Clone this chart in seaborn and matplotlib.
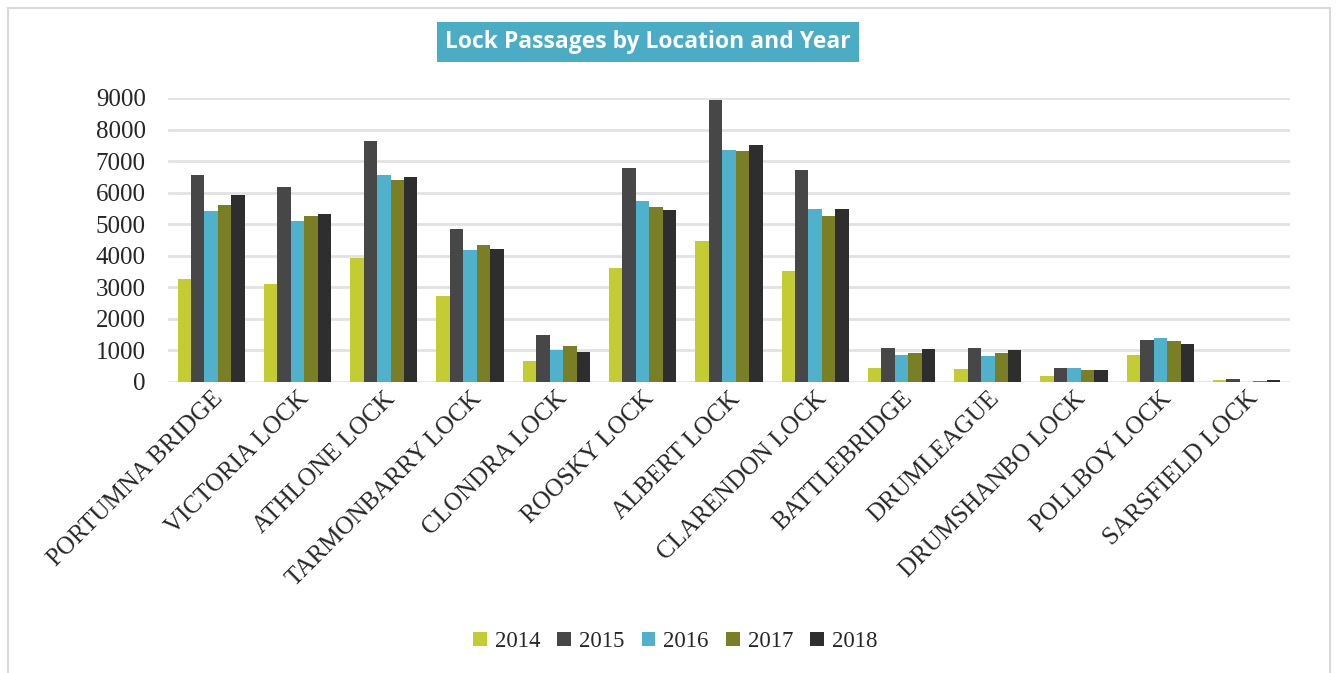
import pandas as pd
import seaborn as sns
import numpy as np
import matplotlib.pyplot as plt
from matplotlib.patches import Rectangle

# data
locations = ['PORTUMNA BRIDGE', 'VICTORIA LOCK', 'ATHLONE LOCK', 'TARMONBARRY LOCK',
             'CLONDRA LOCK', 'ROOSKY LOCK', 'ALBERT LOCK', 'CLARENDON LOCK',
             'BATTLEBRIDGE', 'DRUMLEAGUE', 'DRUMSHANBO LOCK', 'POLLBOY LOCK', 'SARSFIELD LOCK']
years = ['2014', '2015', '2016', '2017', '2018']
y2014 = [3260, 3120, 3930, 2730, 665, 3610, 4460, 3530, 455, 425, 190, 855, 50]
y2015 = [6550, 6170, 7630, 4840, 1500, 6780, 8950, 6720, 1080, 1065, 445, 1320, 80]
y2016 = [5430, 5110, 6550, 4170, 1025, 5750, 7350, 5490, 845, 825, 435, 1405, 15]
y2017 = [5600, 5260, 6410, 4350, 1140, 5550, 7320, 5250, 920, 910, 380, 1310, 40]
y2018 = [5915, 5325, 6490, 4215, 960, 5440, 7500, 5480, 1045, 1005, 390, 1205, 70]
colors = ['#c4cc33', '#474747', '#4fb1cc', '#7a7f25', '#2e2e2e']

df = pd.DataFrame({
    'location': locations * 5,
    'year': np.repeat(years, len(locations)),
    'passages': y2014 + y2015 + y2016 + y2017 + y2018,
})

sns.set_style('white')
plt.rcParams['font.family'] = ['Liberation Serif', 'DejaVu Serif']

fig = plt.figure(figsize=(13.37, 6.73), dpi=100)
ax = fig.add_axes([0.1257, 0.4324, 0.839, 0.422])

sns.barplot(data=df, x='location', y='passages', hue='year', order=locations,
            hue_order=years, palette=colors, width=0.78, saturation=1,
            linewidth=0, ax=ax)

ax.set_ylim(0, 9000)
ax.set_yticks(range(0, 9001, 1000))
ax.set_xlim(-0.5, len(locations) - 0.5)
ax.yaxis.grid(True, color='#e2e2e2', linewidth=2)
ax.set_axisbelow(True)
for s in ax.spines.values():
    s.set_visible(False)
ax.set_xlabel('')
ax.set_ylabel('')
ax.tick_params(axis='y', labelsize=18, pad=16, length=0)
ax.tick_params(axis='x', labelsize=18, pad=4, length=0)
plt.setp(ax.get_xticklabels(), rotation=45, ha='right', rotation_mode='anchor')

leg = ax.legend(loc='center', bbox_to_anchor=(0.505, 0.047), bbox_transform=fig.transFigure,
                ncol=5, frameon=False, fontsize=16.5, handlelength=0.6, handleheight=0.6,
                handletextpad=0.35, columnspacing=0.75)

# title box
fig.text(0.4847, 0.937, 'Lock Passages by Location and Year', ha='center', va='center',
         color='white', fontsize=16.5, fontweight='bold',
         family=['Open Sans', 'DejaVu Sans'],
         bbox=dict(boxstyle='square,pad=0.35', facecolor='#4bacc6', edgecolor='none'))

# outer frame
fig.patches.append(Rectangle((8 / 1337, -0.01), 1322 / 1337, 1 - 8 / 673 + 0.01,
                             transform=fig.transFigure, fill=False,
                             edgecolor='#d9d9d9', linewidth=1.5))

fig.savefig('out.png', dpi=100)
